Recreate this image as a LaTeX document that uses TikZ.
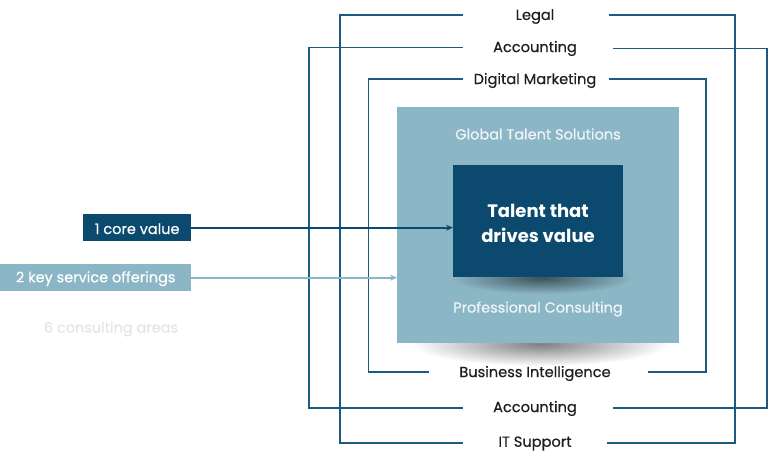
\documentclass[tikz,border=0pt]{standalone}
\usepackage{fontspec}
\setmainfont{Poppins}
\newfontfamily\pmed{Poppins}[FakeBold=0.45]
\usetikzlibrary{arrows.meta,fadings}
\definecolor{darkblue}{HTML}{0B4A6E}
\definecolor{lightblue}{HTML}{8BB6C5}
\definecolor{linecol}{HTML}{1D5A80}
\definecolor{txt}{HTML}{1E1E1E}
\tikzfading[name=softshadow, inner color=transparent!0, outer color=transparent!100]
\begin{document}
\begin{tikzpicture}[x=1pt,y=-1pt,
  frame/.style={draw=linecol,line width=1.8pt},
  area/.style={text=txt,font=\pmed\fontsize{14.6}{17}\selectfont,inner sep=0pt},
  inner/.style={text=white,text opacity=0.85,font=\pmed\fontsize{14.5}{17}\selectfont,inner sep=0pt},
  tagtxt/.style={text=white,font=\pmed\fontsize{14.5}{17}\selectfont,inner sep=0pt},
  shadowfill/.style={fill=black,fill opacity=#1,path fading=softshadow}]
\useasboundingbox (0,0) rectangle (768,459);
% outer shadow
\coordinate (osc) at (540,344);
\fill[shadowfill=0.5] (osc) ellipse [x radius=128pt, y radius=22pt];
% boxes
\node[fill=lightblue,minimum width=282pt,minimum height=236pt,inner sep=0pt,anchor=north west]
  (outer) at (397,107) {};
\coordinate (csc) at (542,278);
\fill[shadowfill=0.55] (csc) ellipse [x radius=90pt, y radius=16pt];
\node[fill=darkblue,minimum width=170pt,minimum height=112pt,inner sep=0pt,anchor=north west]
  (core) at (453,165) {};
\node[text=white,font=\bfseries\fontsize{18}{25}\selectfont,align=center,inner sep=0pt] (coretxt) at (538,223) {Talent that\\drives value};
\node[inner] (gts) at (538,134) {Global Talent Solutions};
\node[inner] (pc) at (538,309) {Professional Consulting};
% frames
\draw[frame] (463,15) -| (340,443) -- (463,443);
\draw[frame] (609,15) -| (735,443) -- (607,443);
\draw[frame] (463,47.5) -| (309,408) -- (463,408);
\draw[frame] (613,48.5) -| (767,408) -- (613,408);
\draw[frame] (463,79) -| (368.5,372) -- (429,372);
\draw[frame] (609,79) -| (706,372) -- (648,372);
% labels
\node[area] (legal) at (535,16.5) {Legal};
\node[area] (acc1) at (535,48.5) {Accounting};
\node[area] (dm) at (535,80.5) {Digital Marketing};
\node[area] (bi) at (535,373.5) {Business Intelligence};
\node[area] (acc2) at (535,408.5) {Accounting};
\node[area] (it) at (535,443.5) {IT Support};
% left tags
\node[fill=darkblue,minimum width=108pt,minimum height=27pt,inner sep=0pt,anchor=north west] (cv) at (83,214) {};
\node[tagtxt] at ([yshift=-1pt]cv.center) {1 core value};
\node[fill=lightblue,minimum width=191pt,minimum height=27pt,inner sep=0pt,anchor=north west] (ks) at (0,264) {};
\node[tagtxt] at ([yshift=-1pt]ks.center) {2 key service offerings};
\node[tagtxt,text=black!10] (ca) at (111,329) {6 consulting areas};
% arrows
\draw[draw=darkblue,line width=1.8pt,-{Stealth[length=7pt,width=6pt]}] (cv.east) -- (core.west |- cv.east);
\draw[draw=lightblue,line width=1.8pt,-{Stealth[length=7pt,width=6pt]}] (ks.east) -- (outer.west |- ks.east);
\end{tikzpicture}
\end{document}
